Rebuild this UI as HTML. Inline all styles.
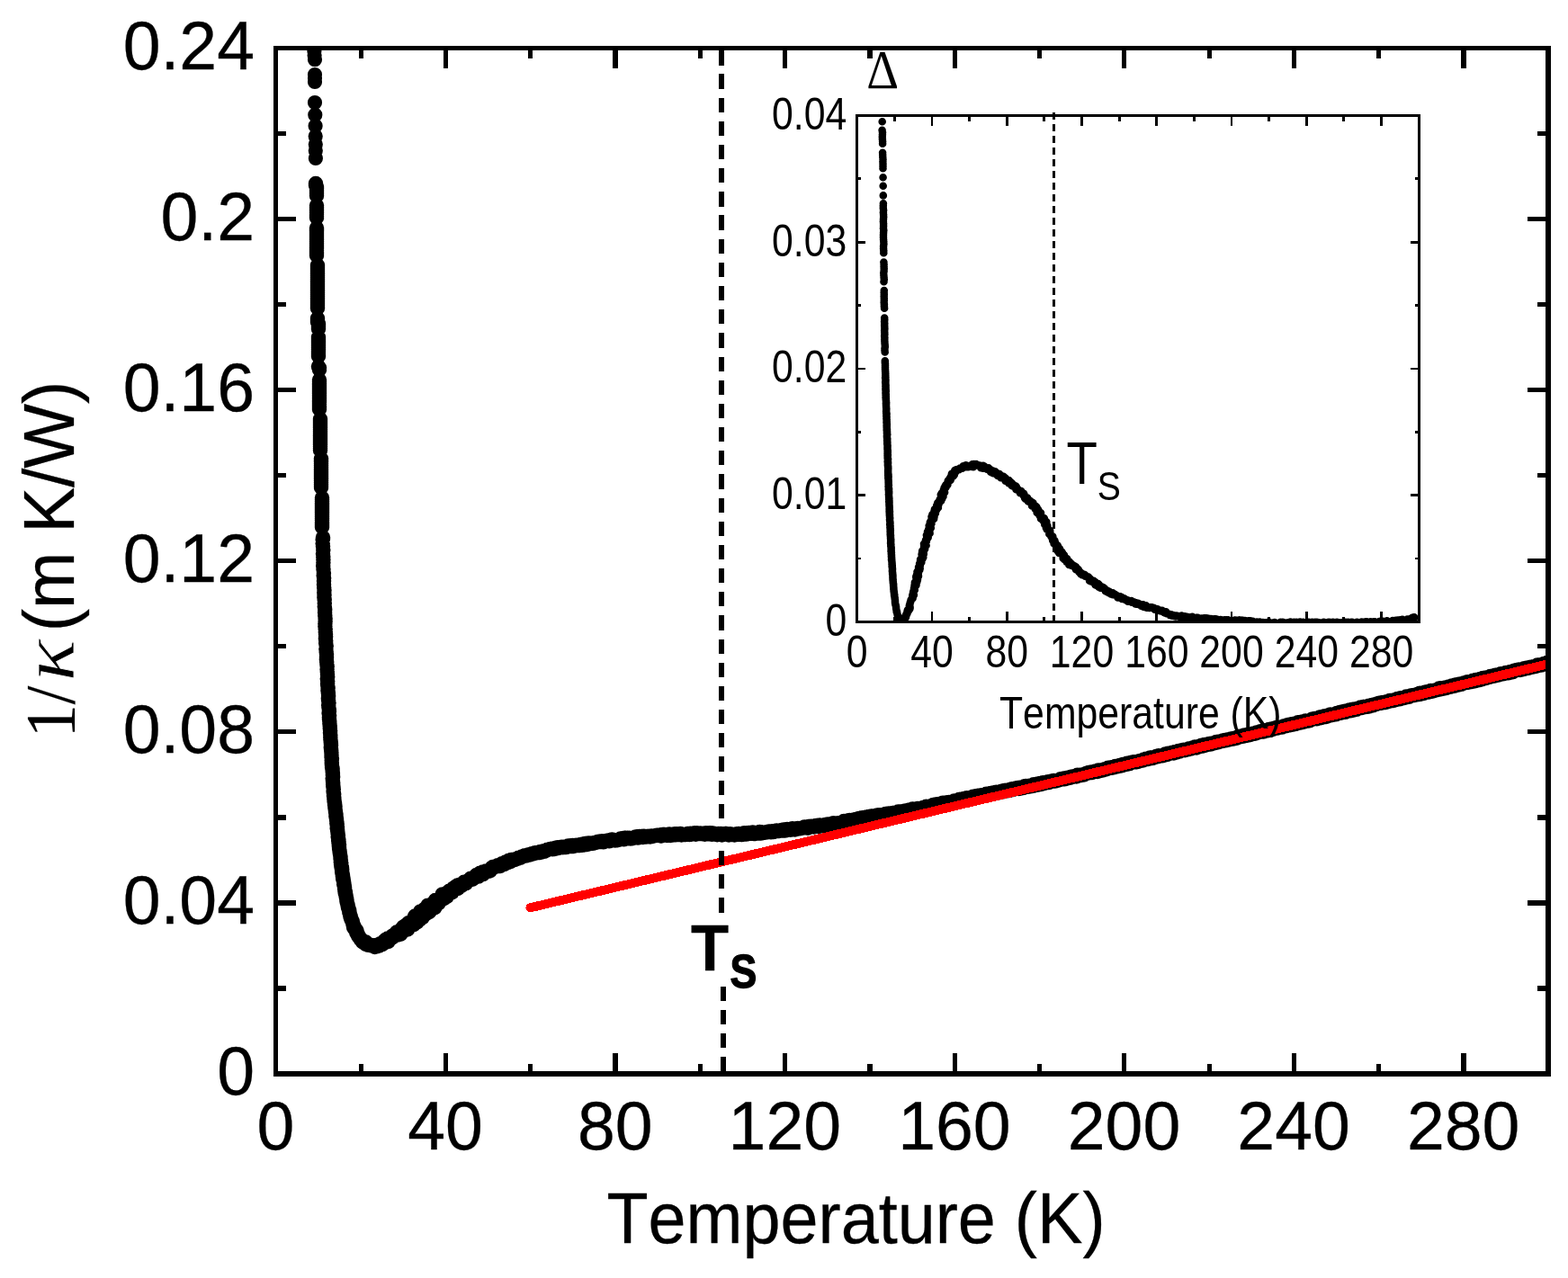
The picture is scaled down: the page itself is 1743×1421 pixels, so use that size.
<!DOCTYPE html>
<html lang="en"><head><meta charset="utf-8"><title>1/kappa vs Temperature</title>
<style>html,body{margin:0;padding:0;background:#fff;overflow:hidden}svg{display:block}text{font-family:"Liberation Sans",Arial,Helvetica,sans-serif;fill:#000;font-kerning:none}.se{font-family:"Liberation Serif","Times New Roman",Times,serif}</style></head><body>
<svg width="1743" height="1421" viewBox="0 0 1743 1421" shape-rendering="crispEdges">
<rect width="1743" height="1421" fill="#fff"/>
<clipPath id="mc"><rect x="306.5" y="53.5" width="1414.5" height="1140.5"/></clipPath>
<g id="main-data" clip-path="url(#mc)" fill="none" stroke="#000" stroke-linecap="round" stroke-linejoin="round" shape-rendering="geometricPrecision">
<path d="M349.4 57h0 M349.6 61.5h0 M350 66.2h0 M350 83h0 M350 87h0 M350 91h0 M350 114h0 M350.3 127.7h0 M350.6 140.1h0 M350.7 151.5h0 M350.8 160.5h0 M350.8 167.5h0 M350.9 176h0" stroke-width="16.2"/>
<path d="M351 204h0 M351 206h0 M352 208h0 M352 209.5h0 M352 211.5h0 M352 213.5h0 M352 215.5h0 M352 217.5h0 M352 228.5h0 M352 230.5h0 M352 232.5h0 M352 234.5h0 M352 236.5h0 M352 238h0 M352 240h0 M352 242h0 M352 253.5h0 M352 255.5h0 M352 257h0 M352 259h0 M352 261h0 M352 263h0 M352 265h0 M352 266.5h0 M352 268.5h0 M352 270.5h0 M352 272.5h0 M352 274.5h0 M352 276h0 M352 278h0 M352 280h0 M352 282h0 M352 284h0 M353 295h0 M353 297h0 M353 299h0 M353 301h0 M353 303h0 M353 304.5h0 M353 306.5h0 M353 308.5h0 M353 310.5h0 M353 312.5h0 M353 314h0 M353 316h0 M353 318h0 M353 320h0 M353 322h0 M353 323.5h0 M353 325.5h0 M353 327.5h0 M353 329.5h0 M353 331.5h0 M353 333h0 M353 335h0 M353 337h0 M353 339h0 M353 341h0 M353 342.5h0 M353 354h0 M353 356h0 M353 358h0 M354 360h0 M354 361.5h0 M354 363.5h0 M354 365.5h0 M354 375h0 M354 377h0 M354 379h0 M354 380.5h0 M354 382.5h0 M354 384.5h0 M354 386.5h0 M354 388.5h0 M354 390h0 M354 392h0 M354 394h0 M354 396h0 M354 407.5h0 M355 409h0 M355 411h0 M355 422.5h0 M355 424.5h0 M355 426.5h0 M355 428h0 M355 430h0 M355 432h0 M355 434h0 M355 436h0 M355 437.5h0 M355 439.5h0 M355 441.5h0 M355 443.5h0 M355 445.5h0 M355 447h0 M355 449h0 M355 451h0 M355 453h0 M355 455h0 M356 466h0 M356 468h0 M356 470h0 M356 472h0 M356 474h0 M356 475.5h0 M356 477.5h0 M356 479.5h0 M356 481.5h0 M356 483.5h0 M356 485h0 M356 487h0 M356 489h0 M356 491h0 M356 493h0 M356 494.5h0 M356 496.5h0 M356 498.5h0 M356 500.5h0 M357 510h0 M357 512h0 M357 513.5h0 M357 515.5h0 M357 517.5h0 M357 519.5h0 M357 521.5h0 M357 523h0 M357 525h0 M357 527h0 M357 529h0 M357 531h0 M357 532.5h0 M357 534.5h0 M357 536.5h0 M357 538.5h0 M357 540.5h0 M357 542h0 M358 553.5h0 M358 555.5h0 M358 557.5h0 M358 559.5h0 M358 561h0 M358 563h0 M358 565h0 M358 567h0 M358 569h0 M358 570.5h0 M358 572.5h0 M358 574.5h0 M358 576.5h0 M358 578.5h0 M358 580h0 M358 582h0 M358 584h0 M358 586h0 M359 597.5h0 M359 599h0 M358.7 600h0 M358.7 604.3h0 M359 607.4h0 M359.3 611.6h0 M359 615.7h0 M359.3 619.2h0 M359.4 622.3h0 M359.4 625.6h0 M359.2 629.2h0 M359.5 633.1h0 M359.9 637.3h0 M359.7 640.1h0 M360.1 642.7h0 M360 646.1h0 M360 650.1h0 M360.2 653.4h0 M360.5 656.3h0 M360.3 659h0 M360.5 661.8h0 M360.4 664.2h0 M360.7 666.9h0 M360.8 670.7h0 M360.8 674.4h0 M361.2 677.9h0 M361.1 681.1h0 M361.3 684.8h0 M361.6 688.1h0 M361.6 691h0 M361.4 693.5h0 M361.4 696.4h0 M361.7 699.5h0 M361.8 702.7h0 M362 705.2h0 M362.1 707.7h0 M361.9 710.1h0 M362.2 712.6h0 M362.2 715.2h0 M362.7 718.3h0 M362.4 721.7h0 M362.7 725.1h0 M363 727.4h0 M363 730.9h0 M362.9 733.2h0 M363.2 736.2h0 M363.4 738.7h0 M363.7 741.1h0 M363.6 744.3h0 M363.8 747.1h0 M364 750.1h0 M364.2 752.5h0 M363.8 754.7h0 M364.2 757.5h0 M364.1 760.1h0 M364.3 762.5h0 M364.6 765.3h0 M364.5 767.9h0 M364.9 770.9h0 M365.1 773.9h0 M364.9 776.8h0 M365.1 778.8h0 M365.5 781.6h0 M365.2 784.2h0 M365.4 786.6h0 M365.8 788.6h0 M365.9 790.9h0 M365.6 793.1h0 M366.1 795.5h0 M365.9 797.6h0 M366 799.8h0 M366.3 802.1h0 M366.4 804.8h0 M366.7 807.2h0 M366.8 809.9h0 M367.1 812.6h0 M367 814.7h0 M367.3 817.4h0 M367.3 819.9h0 M367.4 822.3h0 M367.7 824.9h0 M367.9 826.9h0 M368 828.6h0 M367.8 831.1h0 M368 832.8h0 M368.2 834.8h0 M368.4 837h0 M368.5 839.6h0 M368.5 841.7h0 M368.9 843.4h0 M368.7 845.3h0 M368.8 847.6h0 M368.8 849.2h0 M369 851.4h0 M369.1 853.4h0 M369.6 854.9h0 M369.6 856.3h0 M369.7 858h0 M369.9 859.9h0 M369.9 861.9h0 M370.1 863.9h0 M369.7 865.6h0 M369.9 867.5h0 M370.1 869.5h0 M370.2 871h0 M370.2 872.4h0 M370.3 874.6h0 M370.6 875.9h0 M370.8 877.5h0 M370.6 879.4h0 M370.7 881h0 M371.2 883h0 M371 884.9h0 M371.3 886.4h0 M371.4 888.2h0 M371.5 889.5h0 M371.6 891.3h0 M372.1 893.2h0 M372 895h0 M372.5 896.9h0 M372.4 898.2h0 M372.6 899.6h0 M372.9 901.5h0 M373 902.9h0 M373.4 904.6h0 M373.5 906.1h0 M373.4 907.8h0 M373.8 909.2h0 M374 910.8h0 M374.1 912.2h0 M374.4 913.7h0 M374.3 915.4h0 M374.7 916.8h0 M374.8 918.5h0 M375 919.7h0 M374.7 921h0 M375.1 922.3h0 M375.2 924h0 M375.4 925.3h0 M375.6 927.1h0 M375.9 928.7h0 M375.7 930.4h0 M376 932.1h0 M376.4 933.4h0 M376.2 934.9h0 M376.6 936.1h0 M376.5 937.6h0 M377 939.3h0 M376.8 940.6h0 M377 942.1h0 M377.1 943.9h0 M377.4 945.5h0 M377.6 946.9h0 M377.7 948h0 M377.9 949.6h0 M378.2 951h0 M378.5 952.3h0 M378.5 953.9h0 M378.6 955.2h0 M378.9 956.7h0 M378.8 958.4h0 M379.3 959.6h0 M379.1 961.2h0 M379.4 962.3h0 M379.4 963.8h0 M380 964.9h0 M380.2 966.5h0 M380.1 967.7h0 M380.2 969h0 M380.2 970.1h0 M380.5 971.2h0 M380.7 972.2h0 M381 973.2h0 M380.9 974.4h0 M381.4 975.6h0 M381.2 977.3h0 M381.8 978.8h0 M382 980h0 M382.2 981h0 M382.4 982.2h0 M382.2 983.3h0 M382.7 984.5h0 M382.9 985.9h0 M383.1 987.1h0 M383.1 988.4h0 M383.4 989.7h0 M383.4 991.1h0 M384 992.1h0 M383.7 993.1h0 M384.4 994.5h0 M384.6 996h0 M384.7 997.3h0 M385.2 998.7h0 M385.2 999.8h0 M385.5 1000.7h0 M385.4 1001.9h0 M385.7 1003.2h0 M386.1 1004.5h0 M386.4 1005.9h0 M386.8 1007.2h0 M386.8 1008.2h0 M387 1009.2h0 M387.6 1010.4h0 M388 1011.8h0 M388.3 1012.9h0 M388.4 1014.4h0 M388.9 1015.7h0 M389 1017.1h0 M389.3 1018.4h0 M389.8 1019.4h0 M390 1020.7h0 M390.4 1021.7h0 M390.8 1022.7h0 M391.4 1023.9h0 M391.9 1025.2h0 M392.2 1026.7h0 M392.5 1027.8h0 M392.9 1029h0 M393.4 1029.8h0 M393.1 1031.3h0 M394.3 1031.8h0 M394.7 1033h0 M395 1033.9h0 M396.2 1034.4h0 M396.8 1035.7h0 M396.3 1037.3h0 M397.3 1038.3h0 M398.2 1039.5h0 M398.3 1041h0 M399.3 1042h0 M400.1 1042.9h0 M400.5 1044.1h0 M401.6 1044.6h0 M402.5 1045.6h0 M402.7 1046.9h0 M403.5 1047.6h0 M405.1 1047.6h0 M406.7 1047.6h0 M406.7 1049.8h0 M408.2 1049.9h0 M409.3 1050.8h0 M410.8 1050.7h0 M411.9 1050.7h0 M412.8 1051.4h0 M414.3 1051.4h0 M415.3 1051.4h0 M416.7 1053h0 M417.8 1051.1h0 M419.2 1052.3h0 M420.2 1051.4h0 M421.4 1051.6h0 M422 1050h0 M422.8 1049.3h0 M424.8 1050.1h0 M425.8 1049.4h0 M426.3 1047.5h0 M427.1 1046.3h0 M428.9 1047.7h0 M428.9 1044.7h0 M431.6 1046.9h0 M430.9 1043.5h0 M432.4 1043.5h0 M433.8 1043.3h0 M434.6 1042.1h0 M436.3 1042.4h0 M436.4 1040.4h0 M437.8 1039.9h0 M438.6 1039.1h0 M439.9 1039.2h0 M441.9 1039.6h0 M440.9 1036.5h0 M443.8 1038.7h0 M445.3 1038.7h0 M445.3 1036.6h0 M446.9 1036.4h0 M446.1 1033.4h0 M447.8 1033.8h0 M448.4 1033h0 M448.3 1030.7h0 M449.2 1030.3h0 M453.1 1033.5h0 M450.7 1029.1h0 M452.6 1029.9h0 M453.3 1029.2h0 M453.3 1027.6h0 M454 1026.3h0 M455.9 1026.7h0 M458.6 1028.1h0 M459.8 1028.1h0 M459.8 1025.8h0 M460.5 1025.2h0 M462 1025h0 M463.6 1025.3h0 M460.8 1019.7h0 M461.3 1018.6h0 M466.5 1022.6h0 M466.2 1019.9h0 M467.5 1019.5h0 M469.7 1020.2h0 M467.9 1016h0 M467.3 1013.4h0 M471.5 1016.3h0 M473.1 1016.5h0 M471.8 1012.8h0 M471.6 1011h0 M473.2 1011.4h0 M476.9 1014.1h0 M477.6 1013.3h0 M478.4 1012.3h0 M475.6 1006.7h0 M477.7 1007.3h0 M480.9 1009.8h0 M479.4 1005.7h0 M483.4 1009.2h0 M483.2 1007.2h0 M484.5 1007.2h0 M483.9 1004.9h0 M484.8 1004.5h0 M483.9 1001h0 M487.7 1004.2h0 M486.7 1000.9h0 M488.4 1000.9h0 M488.8 999.1h0 M491.4 1000.2h0 M491.3 997.9h0 M493.8 998.9h0 M491.7 994.4h0 M495.9 997.4h0 M496.8 996.9h0 M496.5 994.8h0 M497.6 993.8h0 M497.9 992.5h0 M498.4 991.6h0 M499.2 990.8h0 M500.9 991.6h0 M502.6 992.2h0 M502.4 989.4h0 M504.1 989.6h0 M503.9 987.7h0 M506 988.2h0 M506.2 986.1h0 M508.9 987.9h0 M508.5 984.6h0 M510.2 985h0 M510.9 983.7h0 M512.9 984.8h0 M513.4 983.4h0 M514.5 982.3h0 M515.3 982h0 M515.8 980.8h0 M518 982.2h0 M518.7 980.8h0 M519.5 980.1h0 M520.7 979.5h0 M521.9 978.7h0 M522.8 978.3h0 M523.3 976.7h0 M525.3 977.7h0 M525.8 976.5h0 M526.8 975.5h0 M527.7 975h0 M529.2 975.2h0 M529.5 973.1h0 M531.8 974.6h0 M531.8 972.4h0 M533.5 973.5h0 M533.7 970.7h0 M534.9 970.6h0 M536.9 972.1h0 M536.8 969.6h0 M538.3 970h0 M539.4 969.2h0 M540.2 968.5h0 M542.1 969h0 M543 968.8h0 M544 968.2h0 M544.9 968.1h0 M545.3 966.5h0 M546.5 966.1h0 M546.9 964.7h0 M547.8 964h0 M548.9 963.8h0 M550.2 963.9h0 M551.3 963.2h0 M552.2 963h0 M553.3 962.3h0 M554.9 963h0 M556.1 962.9h0 M556.9 960.9h0 M558 960.3h0 M559.1 960.3h0 M560.7 960.9h0 M561.4 960h0 M562.1 958.4h0 M563.9 958.9h0 M565 958.9h0 M565.2 957.1h0 M566.9 958.2h0 M567.7 957.8h0 M568.3 955.9h0 M569.7 956.1h0 M571.1 956.1h0 M572.4 956h0 M573.3 955.4h0 M574.3 954.9h0 M575.7 954.7h0 M576.5 953.7h0 M578.1 953.8h0 M579.1 953.4h0 M580 952.5h0 M581.3 952.2h0 M582.4 951.8h0 M583.5 951.2h0 M584.5 951.6h0 M585.7 951.2h0 M586.9 950.4h0 M588 950.2h0 M589.1 950.4h0 M590.1 949.7h0 M591.3 949.2h0 M592.4 949.5h0 M593.6 948.8h0 M594.8 948.2h0 M596.1 948.5h0 M597 948.1h0 M598.3 948h0 M599.3 947.9h0 M600.3 948h0 M601.1 946.9h0 M602.3 947.5h0 M603.2 946.8h0 M604.8 946.8h0 M605.5 946.1h0 M606.8 946h0 M607.8 945.2h0 M608.6 944.7h0 M609.8 944.4h0 M610.8 944.5h0 M611.7 943.9h0 M613.2 944.1h0 M614.3 944.2h0 M615 943.4h0 M616.6 944h0 M617.7 942.8h0 M618.8 942.5h0 M619.8 942.3h0 M620.9 942.9h0 M621.7 942.2h0 M623.2 942.2h0 M624.2 941.7h0 M625.7 942.2h0 M626.9 942h0 M627.8 941.4h0 M629.2 942.1h0 M630.5 941.5h0 M631.6 940.6h0 M633 940.4h0 M634.1 941.1h0 M635.5 941.1h0 M636.5 940.1h0 M637.6 940.9h0 M639 939.9h0 M640.4 939.9h0 M641.5 939.9h0 M642.4 939.7h0 M643.4 939.9h0 M644.7 940h0 M646 939h0 M647.2 939.7h0 M648.2 938.4h0 M649.3 939.5h0 M650.3 938h0 M651.6 938.5h0 M652.8 938.9h0 M654.1 937.5h0 M655.2 937.8h0 M656.6 937.9h0 M657.9 937.6h0 M659 937.8h0 M659.9 937.5h0 M660.8 937h0 M662.3 936.9h0 M663.2 936.6h0 M664.4 935.9h0 M665.4 935.7h0 M666.7 936h0 M667.9 935.7h0 M669.1 935.3h0 M670.7 936.3h0 M671.8 935.4h0 M673.2 934.9h0 M674.5 934.7h0 M675.9 934.6h0 M677.2 935.3h0 M678.1 935h0 M679.3 934.2h0 M680.3 933.6h0 M681.5 934.3h0 M682.4 934.2h0 M683.9 934.5h0 M685.3 934h0 M686.4 934.2h0 M687.4 933.9h0 M688.7 933.3h0 M689.9 932.6h0 M691.1 932.6h0 M692 932.2h0 M693.5 933.3h0 M694.3 931.8h0 M695.4 931.8h0 M696.5 932.4h0 M697.6 932h0 M698.7 932.3h0 M699.7 931.8h0 M701 932.4h0 M702 932h0 M703.1 932.2h0 M704.1 931.5h0 M705.6 931.6h0 M706.5 930.6h0 M707.9 930.3h0 M709.1 931.6h0 M709.9 930.3h0 M710.9 930.1h0 M712.2 930.8h0 M713.2 929.9h0 M714.7 930.9h0 M715.8 929.7h0 M717.1 930.3h0 M718.3 930.6h0 M719.4 930h0 M720.4 929.9h0 M721.7 930.1h0 M722.8 930.4h0 M724.1 929.4h0 M725.3 929.9h0 M726.3 929.6h0 M727.6 929.3h0 M729 929.1h0 M730.1 928.7h0 M731.6 928.7h0 M732.9 928.7h0 M734.4 929.5h0 M735.3 929.5h0 M736.5 928h0 M737.7 927.9h0 M738.9 928h0 M740.1 928.2h0 M741.4 928.9h0 M742.8 928h0 M744 927.4h0 M745.2 929h0 M746.2 928.8h0 M747.4 927.7h0 M748.8 927.7h0 M750.2 927.2h0 M751.2 928.3h0 M752.3 927.2h0 M753.6 927.4h0 M754.8 928.1h0 M756.2 926.9h0 M757.5 928.4h0 M758.7 928h0 M759.6 928.1h0 M760.9 928.1h0 M762.3 928h0 M763.2 927.7h0 M764.2 926.9h0 M765.3 927.4h0 M766.6 928h0 M767.4 926.7h0 M768.6 927.7h0 M769.8 927.1h0 M771.2 927.3h0 M772.2 926.3h0 M773.4 927.7h0 M774.7 926.2h0 M775.8 926.8h0 M777.1 927.1h0 M778.6 926.6h0 M779.7 927.1h0 M781.1 927.3h0 M782.3 927.5h0 M783.5 927.7h0 M784.6 926.2h0 M786 926.6h0 M787.4 927.2h0 M788.6 926.3h0 M790 926.3h0 M791.4 927.8h0 M792.5 926.5h0 M793.9 927.2h0 M794.9 927.3h0 M796 927.2h0 M797.2 928.2h0 M798.7 926.9h0 M799.8 927.6h0 M801.3 926.9h0 M802.5 928.5h0 M803.7 927.3h0 M804.9 927.5h0 M806.3 927.1h0 M807.4 927h0 M808.7 927.4h0 M810.1 928.5h0 M811.6 927.3h0 M812.5 927.5h0 M814 928.1h0 M814.9 928h0 M816.4 928.4h0 M817.7 928.2h0 M819.1 927.2h0 M820.1 927.8h0 M821 927.1h0 M822.5 927.4h0 M823.8 928h0 M824.8 928.1h0 M826.2 926.8h0 M827.3 926.3h0 M828.8 926.4h0 M829.7 927.6h0 M831 927.1h0 M832.2 925.9h0 M833.2 926.7h0 M834.2 926.6h0 M835.5 926.8h0 M836.7 925.6h0 M837.9 927.1h0 M838.8 926.4h0 M839.8 927h0 M840.7 926h0 M842 926.5h0 M843.4 926.4h0 M844.4 925.1h0 M845.9 926.6h0 M846.8 926.1h0 M847.7 925.5h0 M848.9 925.7h0 M850.4 925.7h0 M851.6 925.6h0 M852.7 924.9h0 M853.8 925h0 M854.9 924.4h0 M855.9 924.7h0 M857 925.3h0 M858.3 924.2h0 M859.7 925.1h0 M860.7 924.4h0 M861.9 924.4h0 M863.3 923.4h0 M864.9 924.1h0 M866.2 923.9h0 M867.6 923.2h0 M868.9 923h0 M870.2 923.6h0 M871.1 922.4h0 M872.6 923.6h0 M873.8 922.6h0 M875 922h0 M876.4 922.7h0 M877.6 922.4h0 M878.7 922.7h0 M879.9 922.6h0 M880.9 921.3h0 M882.2 922.2h0 M883.7 922.5h0 M884.6 922.1h0 M885.6 921.9h0 M886.7 921.1h0 M887.9 921.3h0 M889.2 921.3h0 M890.5 920.7h0 M891.8 920.5h0 M893 920.5h0 M894.2 919.6h0 M895.4 919.8h0 M896.5 919.4h0 M898 920.7h0 M898.9 919.1h0 M900.1 919h0 M901.6 918.8h0 M902.8 919.3h0 M903.7 918.8h0 M904.8 919.4h0 M906.2 918.6h0 M907.5 918h0 M908.8 918.3h0 M910 918.9h0 M911.2 917.4h0 M912.4 918.5h0 M913.8 917.9h0 M915.3 918.4h0 M916.6 917.6h0 M917.5 916.9h0 M918.9 917.7h0 M919.9 916.6h0 M920.8 917h0 M922 917h0 M923 916.6h0 M924.2 916.1h0 M925.2 915.8h0 M926.5 915.2h0 M927.5 915.5h0 M928.6 916h0 M930.1 916h0 M931.4 915.2h0 M932.4 915.4h0 M933.7 915h0 M935 914.9h0 M936 914.5h0 M937.1 913.7h0 M938.1 913.1h0 M939.4 913.3h0 M940.7 913.9h0 M941.9 913.4h0 M943.2 912.3h0 M944.4 911.9h0 M945.8 913.2h0 M946.6 912.7h0 M948 912h0 M949.3 911.6h0 M950.4 911.5h0 M951.3 911h0 M952.6 912h0 M953.5 910.4h0 M954.9 910h0 M956.6 911h0 M957.7 910h0 M958.6 909.3h0 M959.6 909.5h0 M960.9 910.4h0 M962.1 910.3h0 M963.2 908.5h0 M964.4 908.4h0 M965.6 909.6h0 M966.4 908.1h0 M967.5 908.7h0 M968.5 907.4h0 M969.9 907.6h0 M971.3 907.8h0 M972.5 907.6h0 M973.9 908.3h0 M975 906.4h0 M976.3 906.6h0 M977.2 906.3h0 M978.4 907.5h0 M979.7 907.1h0 M980.9 906h0 M982.1 906h0 M983.1 905.8h0 M984.4 905h0 M985.5 905.5h0 M986.9 905.6h0 M988 904.5h0 M989.1 904.7h0 M990.3 905.3h0 M991.7 904.9h0 M992.5 904.1h0 M994.1 905h0 M995.1 903.8h0 M996.3 904.1h0 M997.6 903.3h0 M998.5 902.6h0 M999.8 903.9h0 M1001.1 903.9h0 M1001.8 902.6h0 M1003.2 902.9h0 M1004.1 902.3h0 M1005.4 902.6h0 M1006.4 901.5h0 M1008 901.7h0 M1009.3 901.6h0 M1010.1 900.9h0 M1011 900.6h0 M1012.1 900.8h0 M1013.2 900.5h0 M1014.4 899.6h0 M1015.6 900.8h0 M1016.7 900h0 M1017.8 899.9h0 M1018.9 900.3h0 M1020.1 899.1h0 M1021.2 899.9h0 M1022.1 899.3h0 M1023.6 899.2h0 M1024.9 898.4h0 M1026.2 898.1h0 M1027.3 897.9h0 M1028.4 898.2h0 M1029.6 896.8h0 M1030.7 897h0 M1032 897.8h0 M1033.5 897.5h0 M1034.7 896.7h0 M1035.6 896h0 M1036.6 896.6h0 M1037.4 895.1h0 M1038.6 895.3h0 M1039.8 894.5h0 M1041.1 895.7h0 M1042.4 895h0 M1043.4 894.1h0 M1045 894.7h0 M1046 893.4h0 M1047.1 893.6h0 M1048 892.8h0 M1049.3 893.2h0 M1050.3 892.9h0 M1051.4 892.6h0 M1052.7 892.6h0 M1053.8 892.9h0 M1054.9 892.1h0 M1056.3 892.3h0 M1057.7 892.1h0 M1058.9 891.7h0 M1059.9 891.4h0 M1060.7 890.5h0 M1061.7 890.5h0 M1062.7 890.7h0 M1064.1 890.7h0 M1065 890.2h0 M1066.2 889h0 M1067.2 889.1h0 M1068.4 888.7h0 M1069.6 888.8h0 M1070.9 888.8h0 M1072.1 888.1h0 M1073.6 888.6h0 M1074.7 887.3h0 M1076.3 887.8h0 M1077.3 887.4h0 M1078.5 887.3h0 M1079.4 886.7h0 M1080.7 887.3h0 M1081.6 885.8h0 M1082.8 885.9h0 M1083.9 886.9h0 M1084.9 886h0 M1085.8 885h0 M1087.5 886.1h0 M1088.3 885.1h0 M1089.3 884.5h0 M1090.8 885.2h0 M1092.1 884.8h0 M1092.9 883.9h0 M1094.2 884.4h0 M1095.2 883.8h0 M1096.5 882.8h0 M1097.6 883h0 M1099 882.7h0 M1100 882.8h0 M1101.2 882.1h0 M1102.6 881.9h0 M1103.9 881.6h0 M1105.3 881.4h0 M1106.8 882.1h0 M1107.6 880.7h0 M1108.9 881.1h0 M1110.2 881.3h0 M1111.3 880.6h0 M1112.4 880.3h0 M1113.4 879.7h0 M1114.5 879.6h0 M1115.7 880.2h0 M1116.5 879.1h0 M1117.7 879h0 M1118.8 878.9h0 M1120 879.2h0 M1121.5 879.1h0 M1122.5 878.3h0 M1123.6 877.7h0 M1125 877.2h0 M1126.2 877.9h0 M1127.3 877.1h0 M1128.8 877h0 M1129.9 876.2h0 M1131.3 876h0 M1132.7 876.9h0 M1134.1 876.7h0 M1135.3 875.4h0 M1136.2 875.5h0 M1137.3 876.1h0 M1138 875h0 M1138.9 874.3h0 M1140.1 874.1h0 M1141.7 874.8h0 M1142.8 874.8h0 M1144 873.7h0 M1145.6 874.3h0 M1146.7 873.2h0 M1148.3 873.8h0 M1149.1 872.3h0 M1150.7 872.9h0 M1151.6 872.5h0 M1152.8 872.8h0 M1153.7 871.5h0 M1154.6 871.5h0 M1156.1 871.1h0 M1157.4 871.9h0 M1158.1 870.7h0 M1159.4 870.2h0 M1161.1 870.9h0 M1162 870.4h0 M1163.2 870.3h0 M1164.2 869.6h0 M1165.1 869.3h0 M1166.3 869.9h0 M1167.6 868.9h0 M1168.9 868.8h0 M1169.9 868.3h0 M1171.3 868h0 M1172.7 868.6h0 M1173.7 868.2h0 M1174.7 867.9h0 M1176.1 867.7h0 M1177.5 867.2h0 M1178.8 866.3h0 M1180 866h0 M1180.9 866.1h0 M1182.4 866.3h0 M1183.3 866.3h0 M1184.1 865.2h0 M1185.7 865.7h0 M1186.8 864.7h0 M1188.1 865.1h0 M1189.2 864.8h0 M1190.4 864.1h0 M1191.8 863.6h0 M1193.2 863.7h0 M1194.2 863.3h0 M1195.5 863h0 M1196.6 863.4h0 M1197.7 861.8h0 M1199.3 862.2h0 M1200.3 862.3h0 M1201.4 861.9h0 M1202.7 861.4h0 M1203.7 861.5h0 M1205 861.4h0 M1206 861h0 M1207.3 860.1h0 M1208.4 859.8h0 M1209.2 859.4h0 M1210.3 859h0 M1211.7 859.1h0 M1212.9 858.6h0 M1214.1 859h0 M1215.2 858.5h0 M1216.3 858.2h0 M1217.6 857.5h0 M1218.9 857.7h0 M1219.9 857.9h0 M1220.9 856.6h0 M1222.4 857.1h0 M1223.6 856.9h0 M1224.4 856.2h0 M1225.9 856.4h0 M1227 855.7h0 M1228.1 855.3h0 M1229.4 855.5h0 M1230.7 854.9h0 M1231.9 853.7h0 M1233.4 853.9h0 M1234.6 853.4h0 M1235.9 853.8h0 M1236.7 852.9h0 M1238 853.3h0 M1239 853h0 M1239.9 852.1h0 M1241.2 852.3h0 M1242.7 852.2h0 M1243.6 851.8h0 M1244.8 851.1h0 M1246.3 851.4h0 M1247.4 851.2h0 M1248.1 850h0 M1249.5 849.8h0 M1250.8 849.8h0 M1251.8 849.9h0 M1252.9 848.8h0 M1254.2 849.4h0 M1255.6 849.1h0 M1256.6 848.2h0 M1257.7 847.7h0 M1258.9 847.5h0 M1259.9 847.5h0 M1260.8 847.3h0 M1262.2 847.3h0 M1263.7 847.2h0 M1264.9 846.9h0 M1266 846.5h0 M1267 845.9h0 M1268.4 845.7h0 M1269.7 845.6h0 M1270.7 845.4h0 M1271.5 844.5h0 M1272.4 844.3h0 M1273.8 843.7h0 M1275 844.1h0 M1276.4 844h0 M1277.3 843.1h0 M1278.6 842.6h0 M1279.6 842.6h0 M1280.9 843.1h0 M1282.1 842.4h0 M1283.4 842.2h0 M1284.5 841.5h0 M1285.4 841.1h0 M1286.8 841.3h0 M1288 840.3h0 M1289.5 840.4h0 M1291 840.3h0 M1292.2 840.3h0 M1293.4 839.8h0 M1294.4 839.5h0 M1295.3 838.6h0 M1296.4 838.8h0 M1297.5 838.9h0 M1298.2 837.8h0 M1299.8 837.8h0 M1300.9 837.4h0 M1302 837.4h0 M1303.2 836.7h0 M1304.8 837.5h0 M1305.9 836.4h0 M1306.8 836h0 M1308.1 836.5h0 M1308.9 836.2h0 M1310 835h0 M1311.1 835.6h0 M1312.3 834.8h0 M1313.6 834.4h0 M1314.7 834h0 M1315.9 833.7h0 M1317.1 834.2h0 M1318.3 833.8h0 M1319.5 833.5h0 M1320.6 833.3h0 M1321.4 832.6h0 M1322.5 832.2h0 M1323.6 832.6h0 M1324.8 831.9h0 M1325.8 831.5h0 M1327.1 831.6h0 M1328.4 830.6h0 M1330.1 831.4h0 M1331.1 830.8h0 M1332.4 830.4h0 M1333.4 830.2h0 M1334.7 829.2h0 M1335.8 828.8h0 M1337.4 829.4h0 M1338.3 829.1h0 M1339.4 828.1h0 M1340.7 828.5h0 M1341.8 828h0 M1343.2 827.8h0 M1344.2 826.9h0 M1345.4 827.6h0 M1346.7 827.2h0 M1347.9 826.6h0 M1349.1 826.5h0 M1350.1 826h0 M1351.3 825.9h0 M1352.1 824.9h0 M1353.1 824.9h0 M1354.6 825.2h0 M1355.8 824.6h0 M1356.8 824.4h0 M1358.2 824.1h0 M1359.4 823.6h0 M1360.4 823.7h0 M1361.5 823.1h0 M1362.6 823.3h0 M1363.6 822.9h0 M1364.7 822.8h0 M1365.7 822.2h0 M1367.2 822.2h0 M1368.4 821.4h0 M1369.8 821.2h0 M1371.4 821.4h0 M1372.6 821h0 M1373.8 820.6h0 M1374.8 820.7h0 M1375.9 819.4h0 M1377.1 819.7h0 M1378.3 818.8h0 M1379.8 818.7h0 M1381.3 818.8h0 M1382.4 818.1h0 M1383.2 817.6h0 M1384.7 818.1h0 M1386 817.3h0 M1387.4 816.8h0 M1389 817.2h0 M1389.9 816.9h0 M1391.1 816.4h0 M1392.5 815.9h0 M1393.6 815.4h0 M1395.1 815.7h0 M1396 815.3h0 M1396.9 814.4h0 M1398 814.6h0 M1399 814h0 M1399.9 813.9h0 M1401.2 813.2h0 M1402.5 813.6h0 M1403.3 813h0 M1404.9 813.5h0 M1406 812.2h0 M1407.4 812.2h0 M1408.4 812h0 M1409.9 812.2h0 M1410.8 810.9h0 M1412.5 811.7h0 M1413.4 810.5h0 M1414.8 810.8h0 M1415.8 810.1h0 M1416.8 809.8h0 M1417.7 809.5h0 M1419.1 808.9h0 M1420.6 809.5h0 M1421.7 809h0 M1422.7 808.8h0 M1424 808.6h0 M1425.2 808.6h0 M1426.5 807.8h0 M1427.7 807.2h0 M1429.2 807.3h0 M1430.5 806.5h0 M1431.9 805.9h0 M1433.1 805.7h0 M1434.3 806.2h0 M1435.1 805.5h0 M1436.2 805.8h0 M1437 805h0 M1438.4 805.1h0 M1439.8 805.1h0 M1440.6 804.5h0 M1441.9 804.3h0 M1443 803.2h0 M1444.2 803.8h0 M1445.3 802.9h0 M1446.2 803h0 M1447.2 803.1h0 M1448.3 802.9h0 M1449.1 802.3h0 M1450.1 802.4h0 M1451.2 801.5h0 M1452.8 801.7h0 M1453.9 801.6h0 M1455 801.4h0 M1456.1 801.2h0 M1456.9 800.7h0 M1457.9 800.1h0 M1459 799.4h0 M1460 799.2h0 M1461.4 799h0 M1462.6 798.9h0 M1463.7 799.3h0 M1464.8 798.7h0 M1466.2 798.6h0 M1467 797.5h0 M1468.2 797.3h0 M1469.3 798h0 M1470.4 797.1h0 M1471.4 797.3h0 M1472.4 796.3h0 M1474.1 796.9h0 M1475.5 796.4h0 M1476.5 795.5h0 M1477.7 795h0 M1478.9 794.6h0 M1480 795.2h0 M1481.1 794.9h0 M1482.4 794.7h0 M1483.7 794.5h0 M1485 794.3h0 M1486.1 792.9h0 M1487.2 793h0 M1488.2 792.6h0 M1489.6 792h0 M1490.7 792.7h0 M1491.6 791.8h0 M1493.2 792.1h0 M1494.1 791.1h0 M1495.4 791.8h0 M1496.5 790.4h0 M1497.9 790.5h0 M1499.1 790.1h0 M1500 789.5h0 M1501.3 790.3h0 M1502.6 789.7h0 M1503.8 788.8h0 M1505.1 789.4h0 M1506.4 788.5h0 M1507.9 788.8h0 M1509.2 787.7h0 M1510.5 787.5h0 M1511.6 787.3h0 M1512.5 786.5h0 M1514 787h0 M1515.3 786h0 M1516.4 786.3h0 M1517.8 785.8h0 M1518.8 785.7h0 M1520.3 785.7h0 M1521.6 784.8h0 M1522.7 785.1h0 M1524.1 784.8h0 M1525 783.9h0 M1526.2 784.3h0 M1527.5 783.4h0 M1528.9 783.1h0 M1530.1 783h0 M1531 782.4h0 M1532 782.2h0 M1533.1 781.7h0 M1534.5 781.5h0 M1535.7 781.7h0 M1536.6 781.2h0 M1537.9 781.1h0 M1539.3 781.1h0 M1540.3 780.9h0 M1541.5 780.4h0 M1542.4 779.9h0 M1543.7 780h0 M1544.9 779h0 M1546.4 779.1h0 M1547.7 779.1h0 M1548.9 778.9h0 M1550.2 778.5h0 M1551.2 777.9h0 M1552.3 777.9h0 M1553.5 776.9h0 M1555 777.2h0 M1555.9 777.3h0 M1556.9 776.2h0 M1557.9 776.6h0 M1558.9 776h0 M1559.9 775.9h0 M1561.1 775.9h0 M1562.3 775.5h0 M1563.2 774.5h0 M1564.8 775.1h0 M1566.1 774.8h0 M1567.3 774.2h0 M1568.3 773.6h0 M1569.4 773.2h0 M1570.6 773.2h0 M1571.5 772.9h0 M1572.6 772.9h0 M1574 772.6h0 M1575.2 772.3h0 M1576.2 771.7h0 M1577.7 772.1h0 M1578.4 770.7h0 M1580.1 771.4h0 M1581.3 771.1h0 M1582.6 770.9h0 M1583.5 770.1h0 M1584.7 769.5h0 M1586 769.3h0 M1587.4 769.6h0 M1588.6 769.5h0 M1589.8 769h0 M1590.5 768h0 M1592 768.7h0 M1593.2 768.3h0 M1594.1 768.1h0 M1595.4 767.4h0 M1596.6 767.3h0 M1597.6 767h0 M1598.8 766.5h0 M1599.7 765.6h0 M1600.9 766.4h0 M1601.7 765.2h0 M1602.9 765.5h0 M1604.2 765.7h0 M1605.6 765.4h0 M1606.8 764.5h0 M1607.9 764.9h0 M1608.8 764.2h0 M1609.9 764.2h0 M1610.8 763.5h0 M1611.9 763.8h0 M1613.1 763.2h0 M1614 762.4h0 M1615.6 762.8h0 M1616.9 762.7h0 M1617.9 761.5h0 M1619.2 761.3h0 M1620.4 761.3h0 M1621.7 761.5h0 M1622.9 760.6h0 M1624.4 760.8h0 M1625.7 760.1h0 M1627 759.7h0 M1627.9 759.2h0 M1629.2 759h0 M1630.3 758.8h0 M1631.2 758.2h0 M1632.3 758.7h0 M1633.3 758.2h0 M1634.8 758h0 M1636.2 757.9h0 M1637.4 756.7h0 M1638.7 757.5h0 M1639.9 757.2h0 M1640.6 755.9h0 M1642.1 756h0 M1643.4 756.3h0 M1644.5 756.1h0 M1645.4 755h0 M1646.4 755.1h0 M1647.7 755.2h0 M1648.4 754h0 M1649.5 754.5h0 M1650.8 754h0 M1652.1 753.9h0 M1652.8 753.2h0 M1654.3 753h0 M1655.8 752.8h0 M1656.7 752h0 M1657.8 752.1h0 M1658.9 752h0 M1660.1 751.8h0 M1661 751.3h0 M1662.3 750.7h0 M1663.8 750.9h0 M1665 750.4h0 M1666.1 750.4h0 M1667.5 749.8h0 M1668.3 749.3h0 M1669.8 749.2h0 M1670.8 749.3h0 M1672.2 749h0 M1673.1 748.6h0 M1674 747.9h0 M1675.6 748h0 M1676.7 748.3h0 M1678.1 747.9h0 M1679 746.9h0 M1680.2 747.1h0 M1681.7 747.2h0 M1683 746.1h0 M1684.1 745.6h0 M1685.3 745.2h0 M1686.2 745.1h0 M1687.3 745h0 M1688.6 744.5h0 M1689.7 744.9h0 M1691 744.7h0 M1692.2 744.3h0 M1693.5 744.1h0 M1694.2 743.3h0 M1695.5 742.9h0 M1696.7 742.7h0 M1698 743.1h0 M1699.2 742.4h0 M1700.3 742.5h0 M1701.5 741.8h0 M1702.9 741.8h0 M1704.4 741.4h0 M1705.7 740.9h0 M1707.1 741h0 M1707.9 740.3h0 M1709 739.5h0 M1710.6 740h0 M1711.9 739.2h0 M1713.2 739.6h0 M1714.3 739.2h0 M1715.3 738.4h0 M1716.3 738h0 M1717.4 737.7h0 M1719 738.3h0 M1719.6 737h0 M1720.8 737.8h0 M1721.6 737.3h0 M1722.5 736.5h0" stroke-width="16.5"/>
</g>
<line clip-path="url(#mc)" x1="589.5" y1="1009.3" x2="1725" y2="737.3" stroke="#ff0000" stroke-width="10" stroke-linecap="round"/>
<g stroke="#000" stroke-width="6" fill="none">
<line x1="802" y1="56.3" x2="802" y2="1014.6" stroke-dasharray="16.2 9.97"/>
<line x1="804" y1="1096.8" x2="804" y2="1194" stroke-dasharray="16.2 9.8"/>
</g>
<g id="main-axes" stroke="#000" fill="none" stroke-width="5.5" shape-rendering="crispEdges">
<rect x="306.5" y="53.5" width="1414.5" height="1140.5"/>
<path d="M401.1 56.2 v9 M401.1 1191.2 v-8 M495.4 56.2 v20 M495.4 1191.2 v-20 M589.7 56.2 v9 M589.7 1191.2 v-8 M684 56.2 v20 M684 1191.2 v-20 M778.3 56.2 v9 M778.3 1191.2 v-8 M872.6 56.2 v20 M872.6 1191.2 v-20 M966.9 56.2 v9 M966.9 1191.2 v-8 M1061.2 56.2 v20 M1061.2 1191.2 v-20 M1155.5 56.2 v9 M1155.5 1191.2 v-8 M1249.8 56.2 v20 M1249.8 1191.2 v-20 M1344.1 56.2 v9 M1344.1 1191.2 v-8 M1438.4 56.2 v20 M1438.4 1191.2 v-20 M1532.7 56.2 v9 M1532.7 1191.2 v-8 M1627 56.2 v20 M1627 1191.2 v-20 M309.2 1099 h9 M1718.2 1099 h-9 M309.2 1003.9 h20 M1718.2 1003.9 h-20 M309.2 908.9 h9 M1718.2 908.9 h-9 M309.2 813.8 h20 M1718.2 813.8 h-20 M309.2 718.8 h9 M1718.2 718.8 h-9 M309.2 623.8 h20 M1718.2 623.8 h-20 M309.2 528.7 h9 M1718.2 528.7 h-9 M309.2 433.7 h20 M1718.2 433.7 h-20 M309.2 338.6 h9 M1718.2 338.6 h-9 M309.2 243.6 h20 M1718.2 243.6 h-20 M309.2 148.5 h9 M1718.2 148.5 h-9" stroke-width="5.2"/>
</g>
<g id="main-labels" stroke="#000" stroke-width="0.3">
<text transform="translate(283 1217) scale(1.0 1.022)" font-size="75.2" text-anchor="end">0</text>
<text transform="translate(283 1026.9) scale(1.0 1.022)" font-size="75.2" text-anchor="end">0.04</text>
<text transform="translate(283 836.8) scale(1.0 1.022)" font-size="75.2" text-anchor="end">0.08</text>
<text transform="translate(283 646.8) scale(1.0 1.022)" font-size="75.2" text-anchor="end">0.12</text>
<text transform="translate(283 456.7) scale(1.0 1.022)" font-size="75.2" text-anchor="end">0.16</text>
<text transform="translate(283 266.6) scale(1.0 1.022)" font-size="75.2" text-anchor="end">0.2</text>
<text transform="translate(283 76.5) scale(1.0 1.022)" font-size="75.2" text-anchor="end">0.24</text>
<text transform="translate(306.5 1277.6) scale(1.0 1.022)" font-size="75.2" text-anchor="middle">0</text>
<text transform="translate(495.1 1277.6) scale(1.0 1.022)" font-size="75.2" text-anchor="middle">40</text>
<text transform="translate(683.7 1277.6) scale(1.0 1.022)" font-size="75.2" text-anchor="middle">80</text>
<text transform="translate(872.3 1277.6) scale(1.0 1.022)" font-size="75.2" text-anchor="middle">120</text>
<text transform="translate(1060.9 1277.6) scale(1.0 1.022)" font-size="75.2" text-anchor="middle">160</text>
<text transform="translate(1249.5 1277.6) scale(1.0 1.022)" font-size="75.2" text-anchor="middle">200</text>
<text transform="translate(1438.1 1277.6) scale(1.0 1.022)" font-size="75.2" text-anchor="middle">240</text>
<text transform="translate(1626.7 1277.6) scale(1.0 1.022)" font-size="75.2" text-anchor="middle">280</text>
<text transform="translate(674.4 1382.2) scale(1.0 1.05)" font-size="75.55" text-anchor="start">Temperature (K)</text>
<text transform="translate(82 820.2) rotate(-90) scale(1.0 1.05)" font-size="76" text-anchor="start"><tspan class="se" font-size="74" stroke-width="0.2">1/</tspan><tspan class="se" font-style="italic" font-size="79.6" stroke="#fff" stroke-width="0.7" x="62.7" textLength="46.6" lengthAdjust="spacingAndGlyphs">κ</tspan><tspan x="96.9"> (m K/W)</tspan></text>
<text transform="translate(768 1079.2) scale(1.0 1.058)" font-size="69" text-anchor="start" font-weight="bold">T<tspan font-size="49.5" x="43.4" dy="17.9" textLength="29.8" lengthAdjust="spacingAndGlyphs" stroke-width="1.2">S</tspan></text>
</g>
<g id="inset">
<clipPath id="ic"><rect x="952.7" y="128.6" width="624.5" height="564.3"/></clipPath>
<g clip-path="url(#ic)" fill="none" stroke="#000" stroke-linecap="round" stroke-linejoin="round" shape-rendering="geometricPrecision">
<path d="M980.7 135.3h0 M980.6 144.8h0 M981 147.3h0 M980.9 149.8h0 M980.8 152.3h0 M980.9 154.8h0 M981.1 157.3h0 M981.1 159.8h0 M981.1 169.8h0 M981.2 172.3h0 M981.3 174.8h0 M981.5 177.3h0 M981.4 179.8h0 M981.5 182.3h0 M981.5 184.8h0 M981.5 187.3h0 M981.6 197.3h0 M981.7 206.7h0 M981.8 217.4h0 M981.9 226.2h0 M981.8 228.7h0 M981.8 231.2h0 M982.1 233.7h0 M981.9 236.2h0 M982.1 238.7h0 M982.2 241.2h0 M982 243.7h0 M981.9 246.2h0 M982.1 248.7h0 M982.1 251.2h0 M982 253.7h0 M982.3 256.2h0 M982.1 258.7h0 M982 261.2h0 M982 263.7h0 M982.1 266.2h0 M982.3 268.7h0 M982.4 271.2h0 M982.1 273.7h0 M982.1 276.2h0 M982.3 278.7h0 M982.3 281.2h0 M982.4 291.6h0 M982.6 294h0 M982.6 296.4h0 M982.7 298.8h0 M982.6 301.2h0 M982.3 303.6h0 M982.4 306h0 M982.6 308.4h0 M982.8 310.8h0 M982.5 313.2h0 M982.8 323h0 M982.7 325.2h0 M982.8 327.4h0 M982.7 329.6h0 M982.8 331.8h0 M982.8 334h0 M982.7 336.2h0 M982.9 338.4h0 M982.9 340.6h0 M983.1 342.8h0 M983.2 353.5h0 M983.3 355.5h0 M983.1 357.5h0 M983.3 359.5h0 M983.2 361.5h0 M983.3 363.5h0 M983.4 365.5h0 M983.2 367.5h0 M983.3 369.5h0 M983.4 371.5h0 M983.2 373.5h0 M983.4 375.5h0 M983.3 377.5h0 M983.4 379.5h0 M983.5 381.5h0 M983.7 383.5h0 M983.8 385.5h0 M983.5 387.5h0 M983.5 389.5h0 M983.7 391.5h0 M983.8 401.2h0 M983.8 403h0 M984 404.8h0 M984 406.6h0 M984 408.4h0 M984 410.2h0 M984.1 412h0 M984.2 413.8h0 M984.3 415.6h0 M984.3 417.4h0 M984.4 419.2h0 M984.1 420h0 M984.3 420.7h0 M984.4 421.7h0 M984.5 422.7h0 M984.4 423.5h0 M984.4 424.2h0 M984.2 425h0 M984.4 425.8h0 M984.4 426.8h0 M984.5 427.5h0 M984.6 428.4h0 M984.4 429.2h0 M984.6 430.1h0 M984.5 431.1h0 M984.6 431.7h0 M984.4 432.6h0 M984.7 433.3h0 M984.5 434h0 M984.8 435.1h0 M984.6 436.1h0 M984.5 436.9h0 M984.6 437.7h0 M984.8 438.4h0 M984.6 439.3h0 M984.8 440.4h0 M984.8 441.1h0 M984.6 441.9h0 M984.9 442.9h0 M984.8 443.7h0 M984.8 444.4h0 M985 445.4h0 M985 446.4h0 M985 447.2h0 M985.2 447.8h0 M984.9 448.7h0 M985.1 449.5h0 M985 450.6h0 M985.1 451.7h0 M985.1 452.6h0 M985.2 453.6h0 M985.3 454.4h0 M985.3 455.1h0 M985.2 456.1h0 M985.2 456.9h0 M985.1 457.6h0 M985.3 458.5h0 M985.2 459.4h0 M985.6 460.1h0 M985.5 461h0 M985.4 461.8h0 M985.3 462.5h0 M985.6 463.5h0 M985.5 464.5h0 M985.4 465.5h0 M985.7 466.6h0 M985.6 467.8h0 M985.7 468.5h0 M985.5 469.4h0 M985.8 470.3h0 M985.7 471.3h0 M985.9 472.3h0 M985.6 473.4h0 M985.8 474h0 M985.8 474.8h0 M985.7 475.5h0 M985.8 476.3h0 M986 477.2h0 M985.7 478h0 M986 478.7h0 M985.9 479.5h0 M986.1 480.3h0 M985.9 481.3h0 M986 482.3h0 M986.3 483.1h0 M986 484h0 M985.9 484.9h0 M986 485.6h0 M986 486.6h0 M986.3 487.7h0 M986.3 488.8h0 M986.1 489.8h0 M986.3 490.7h0 M986.3 491.4h0 M986.4 492.2h0 M986.2 493.1h0 M986.3 494h0 M986.5 494.8h0 M986.6 495.8h0 M986.5 497h0 M986.5 497.8h0 M986.5 498.7h0 M986.5 499.5h0 M986.7 500.3h0 M986.8 501.2h0 M986.6 502.1h0 M986.8 503.1h0 M986.6 504h0 M986.6 504.8h0 M986.9 505.8h0 M986.6 506.6h0 M986.7 507.6h0 M986.7 508.7h0 M986.7 509.6h0 M987.1 510.5h0 M986.9 511.3h0 M986.9 512.4h0 M986.7 513.2h0 M987.1 514h0 M987.1 514.9h0 M986.9 515.7h0 M986.9 516.7h0 M986.9 517.4h0 M987.2 518.4h0 M987.1 519.3h0 M987.3 520.1h0 M987.3 521.2h0 M987.2 522.1h0 M987.2 523.2h0 M987.1 524h0 M987.2 524.9h0 M987.2 525.6h0 M987.2 526.7h0 M987.5 527.5h0 M987.2 528.5h0 M987.6 529.3h0 M987.3 530.1h0 M987.6 530.7h0 M987.3 531.5h0 M987.4 532.3h0 M987.6 533.3h0 M987.6 534.3h0 M987.7 535.2h0 M987.6 535.9h0 M987.7 536.7h0 M987.7 537.8h0 M987.7 538.5h0 M987.9 539.4h0 M987.7 540.2h0 M987.6 541h0 M987.8 542.1h0 M988.1 543.2h0 M987.7 543.9h0 M988.1 544.8h0 M987.9 545.8h0 M988.2 546.7h0 M988 547.4h0 M988.2 548.1h0 M988.1 549.1h0 M987.9 549.8h0 M988 550.6h0 M988.1 551.6h0 M988.1 552.4h0 M988.3 553.2h0 M988.4 554.3h0 M988.2 555.1h0 M988.4 555.9h0 M988.5 557h0 M988.2 557.8h0 M988.5 558.6h0 M988.5 559.7h0 M988.4 560.8h0 M988.6 561.9h0 M988.5 562.6h0 M988.7 563.7h0 M988.7 564.4h0 M988.7 565.2h0 M988.6 566.1h0 M988.8 566.8h0 M988.8 567.5h0 M988.6 568.3h0 M989 569.1h0 M988.7 570.1h0 M988.8 571.1h0 M989 572h0 M988.8 572.8h0 M989 573.8h0 M989 574.9h0 M989.2 575.8h0 M989.2 576.6h0 M989 577.7h0 M989.1 578.8h0 M989.3 579.8h0 M989.4 580.8h0 M989.5 581.8h0 M989.2 582.9h0 M989.3 583.7h0 M989.6 584.7h0 M989.5 585.7h0 M989.4 586.6h0 M989.7 587.6h0 M989.6 588.5h0 M989.8 589.2h0 M989.8 590h0 M989.6 590.8h0 M989.8 591.9h0 M989.7 592.9h0 M989.8 593.9h0 M989.7 594.6h0 M990 595.3h0 M989.9 596.2h0 M990 597.2h0 M990 598.3h0 M990.1 599.4h0 M990.3 600.1h0 M990.2 601.1h0 M990.2 601.9h0 M990.2 602.7h0 M990.1 603.5h0 M990.1 604.2h0 M990.4 605.3h0 M990.3 606.3h0 M990.3 607.2h0 M990.6 608.2h0 M990.7 609.3h0 M990.6 610h0 M990.6 610.8h0 M990.7 611.7h0 M990.5 612.8h0 M990.8 613.6h0 M990.9 614.6h0 M990.8 615.5h0 M990.8 616.1h0 M991 617.1h0 M991 617.9h0 M990.9 618.7h0 M991.1 619.7h0 M991.1 620.7h0 M991.2 621.4h0 M991 622.3h0 M991.3 623.1h0 M991.4 624.3h0 M991.5 625.3h0 M991.6 626.2h0 M991.5 627.2h0 M991.7 628h0 M991.8 628.9h0 M991.6 629.8h0 M991.8 630.6h0 M991.9 631.4h0 M992 632.4h0 M992 633.5h0 M991.9 634.5h0 M991.9 635.2h0 M992.1 636.3h0 M992.2 637.2h0 M992.1 638h0 M992.4 639h0 M992.4 639.8h0 M992.5 640.7h0 M992.4 641.8h0 M992.5 642.9h0 M992.5 643.9h0 M992.7 644.6h0 M992.6 645.4h0 M992.7 646.1h0 M992.8 647h0 M992.8 647.9h0 M993.1 649h0 M993.2 650h0 M993.1 650.7h0 M993.2 651.8h0 M993.3 652.7h0 M993.4 653.7h0 M993.4 654.5h0 M993.4 655.3h0 M993.6 656.4h0 M993.6 657.4h0 M993.9 658.5h0 M993.9 659.4h0 M994 660.5h0 M994.3 661.2h0 M994.1 662.1h0 M994.4 663.2h0 M994.5 664.1h0 M994.7 664.8h0 M994.7 665.7h0 M994.9 666.8h0 M995 667.9h0 M995 668.8h0 M995 669.6h0 M995.1 670.7h0 M995.3 671.4h0 M995.4 672.3h0 M995.8 673.1h0 M995.9 674.1h0 M996.1 674.8h0 M996.1 675.8h0 M996.2 676.8h0 M996.3 677.5h0 M996.5 678.5h0 M996.9 679.5h0 M996.7 680.3h0 M997.2 681h0 M997.3 682h0 M997.5 683h0 M997.7 683.8h0 M998.2 684.6h0 M998.1 685.7h0 M998.8 686.5h0 M998.6 687.4h0 M999.4 688.5h0 M1000 689.6h0 M1000 690.7h0 M1000.4 691.5h0 M1001.4 692h0 M1001.7 692.4h0 M1002 692.3h0 M1002.7 692.6h0 M1002.7 691.4h0 M1003.9 691.6h0 M1004.1 690.6h0 M1004.9 690h0 M1005.2 688.9h0 M1005.8 688.2h0 M1005.5 687h0 M1006.9 686.4h0 M1006.6 685.1h0 M1007.4 684.5h0 M1007.2 683.2h0 M1008.2 682.6h0 M1008.5 682h0 M1008.3 681h0 M1008.5 679.9h0 M1009.7 679.5h0 M1008.9 678.3h0 M1009.7 677.5h0 M1011.3 677.1h0 M1011.6 676h0 M1011.6 675.1h0 M1010.8 673.7h0 M1011 672.6h0 M1011.5 671.8h0 M1011.5 671h0 M1011.8 669.9h0 M1012.2 668.9h0 M1012.5 668.1h0 M1012.6 667h0 M1013.3 666.1h0 M1014.6 665.3h0 M1014.2 664.4h0 M1014.2 663.6h0 M1015 663.1h0 M1014.3 661.9h0 M1015.9 661.6h0 M1014.7 660.6h0 M1015 660h0 M1015.5 659.2h0 M1015.1 658.3h0 M1015.4 657.3h0 M1016 656.6h0 M1016.8 655.9h0 M1016 655h0 M1016 654.1h0 M1016.4 653.2h0 M1016.9 652.4h0 M1016.5 651.2h0 M1018.5 650.6h0 M1016.8 649.4h0 M1017.3 648.4h0 M1016.9 647.6h0 M1019.3 647.1h0 M1018.6 645.9h0 M1019.8 645.2h0 M1020 644.3h0 M1019.6 643.2h0 M1018.3 641.9h0 M1018.3 641h0 M1021 640.6h0 M1019 639.1h0 M1020 638.6h0 M1019.5 637.6h0 M1020.9 637.2h0 M1019.5 635.8h0 M1020.4 635.2h0 M1021.4 634.5h0 M1022.3 633.8h0 M1021 632.6h0 M1022.7 632h0 M1021.1 630.5h0 M1022.1 629.9h0 M1022.8 629h0 M1022.2 627.8h0 M1022.1 626.7h0 M1023.7 626.1h0 M1024.3 625.2h0 M1023 624h0 M1024.1 623.1h0 M1023.1 622h0 M1025.4 621.5h0 M1024.3 620.3h0 M1026.3 619.8h0 M1025.9 618.7h0 M1026.1 617.7h0 M1024.6 616.4h0 M1026.8 615.9h0 M1025 614.3h0 M1026.7 614h0 M1025.2 612.5h0 M1026 611.8h0 M1026.6 610.8h0 M1028.1 610.4h0 M1027.2 609.3h0 M1027.1 608.5h0 M1027.1 607.8h0 M1027.4 606.9h0 M1029.6 606.5h0 M1027 604.8h0 M1027.9 603.9h0 M1029.1 603.4h0 M1028.8 602.3h0 M1029.9 601.7h0 M1029 600.6h0 M1029.6 599.8h0 M1030.5 599.2h0 M1030.1 598.2h0 M1031.7 597.6h0 M1030.4 596.2h0 M1029.9 595h0 M1031.3 594.2h0 M1032.9 593.8h0 M1033.6 593h0 M1031 591.2h0 M1033.4 590.9h0 M1032.9 590h0 M1032.2 588.6h0 M1032.5 588h0 M1032.7 587.2h0 M1034.8 586.9h0 M1034.2 585.8h0 M1032.7 584.6h0 M1033.9 583.8h0 M1034.2 582.7h0 M1035.5 582.1h0 M1033.8 580.9h0 M1034.2 580.1h0 M1034.6 579.3h0 M1035.7 578.8h0 M1035.5 577.9h0 M1036.9 577.4h0 M1038.1 577h0 M1038.1 576.1h0 M1035.5 574.6h0 M1038.5 574.8h0 M1038.5 573.9h0 M1036.4 572.1h0 M1037.4 571.6h0 M1039.1 571.2h0 M1039.9 570.8h0 M1038.4 569.3h0 M1038.5 568.3h0 M1039.3 567.5h0 M1038.9 566.4h0 M1041.3 566.6h0 M1040.3 565.2h0 M1042.3 564.9h0 M1042.9 564.4h0 M1042 563.2h0 M1041.2 562h0 M1042.7 561.7h0 M1043.4 561h0 M1042.2 559.2h0 M1043.9 559.2h0 M1043.3 558h0 M1044.9 557.7h0 M1046.1 557h0 M1044.7 555.3h0 M1046.3 554.8h0 M1047.3 554.4h0 M1046.8 553.3h0 M1047.9 552.7h0 M1048.5 551.9h0 M1045.8 550h0 M1047.8 550h0 M1046.6 548.6h0 M1048.5 548.5h0 M1049.4 548h0 M1050.1 547.4h0 M1049.3 545.9h0 M1048.8 544.7h0 M1049.6 544.2h0 M1049.4 543.2h0 M1049.6 542.3h0 M1051.4 542h0 M1051 541h0 M1050.8 540h0 M1051.3 539.3h0 M1053.2 539.3h0 M1053.5 538.5h0 M1053.4 537.4h0 M1053.5 536.6h0 M1053.6 535.6h0 M1053.8 534.5h0 M1054.5 534h0 M1056.5 533.9h0 M1055.5 532.2h0 M1057.3 532.2h0 M1057.2 531.3h0 M1057 529.9h0 M1058 529.7h0 M1057.7 528.7h0 M1059.9 529.2h0 M1057.9 526.7h0 M1060.8 527.9h0 M1060.5 526.7h0 M1060.7 526h0 M1061.5 525.7h0 M1062 525.1h0 M1061.3 523.1h0 M1062.3 523h0 M1062.8 522.3h0 M1064 522.4h0 M1065 521.9h0 M1066.1 522.1h0 M1066.8 521.2h0 M1067.2 520.5h0 M1068 520.7h0 M1068.6 520.2h0 M1069.7 520.8h0 M1070.1 519.9h0 M1070.6 518.4h0 M1071.6 518.2h0 M1072.3 517.8h0 M1073.3 519h0 M1073.7 517.3h0 M1074.7 519.3h0 M1075.4 518h0 M1076.5 519.1h0 M1077.3 518h0 M1078.2 517.9h0 M1079.3 518h0 M1080.3 519h0 M1080.8 516.2h0 M1082 519.1h0 M1082.6 516h0 M1083.3 517.9h0 M1084 517.8h0 M1085.1 516h0 M1086.1 516.9h0 M1087 517.4h0 M1087.7 517.7h0 M1088.4 517.9h0 M1089.2 517.8h0 M1090 517.9h0 M1090.3 520.3h0 M1091.1 520.1h0 M1092.9 517.9h0 M1092.6 520.7h0 M1094.3 518.5h0 M1094.5 520.8h0 M1095.8 520.5h0 M1096.8 520.3h0 M1097.1 521.6h0 M1098.9 520.4h0 M1099.3 521.6h0 M1099.6 522.7h0 M1101.2 522.2h0 M1101.1 524.6h0 M1101.8 525.1h0 M1103.1 524.7h0 M1104.4 523.9h0 M1104.1 526.2h0 M1106.3 524.2h0 M1106.9 525h0 M1107.2 526.6h0 M1107.9 527.6h0 M1109.1 526.8h0 M1109 528.9h0 M1111 527.1h0 M1111.6 527.7h0 M1112.1 528.3h0 M1112.4 529.2h0 M1112.5 531.1h0 M1113.8 530.4h0 M1115.5 529.7h0 M1116.1 530.4h0 M1116.6 531.2h0 M1117.6 531.6h0 M1117.6 533.1h0 M1117.6 534.6h0 M1119.5 533.4h0 M1120 534.5h0 M1121.5 534.1h0 M1120.8 536.2h0 M1121.2 537.1h0 M1123.2 535.9h0 M1123.8 536.9h0 M1124.6 537h0 M1125.3 537.8h0 M1124.7 540h0 M1125.6 540.4h0 M1127.6 539.9h0 M1127.8 541.3h0 M1129.3 540.6h0 M1129.9 541.2h0 M1129.7 543h0 M1129.5 544.3h0 M1131.2 543.8h0 M1131.7 544.3h0 M1132.2 545.4h0 M1132.8 546h0 M1133.4 546.7h0 M1135.2 546h0 M1134 548.2h0 M1135.9 547.2h0 M1136 548.5h0 M1137.5 548.5h0 M1138.1 548.9h0 M1138.5 549.8h0 M1138.1 551.5h0 M1138.7 552h0 M1139.5 552.2h0 M1139.2 554h0 M1139.8 554.8h0 M1142.1 553.6h0 M1142.2 554.8h0 M1143 555.4h0 M1142.8 556.5h0 M1142.9 557.5h0 M1145 556.7h0 M1145.5 557.2h0 M1146.2 557.9h0 M1145.8 559.2h0 M1147.8 558.8h0 M1148.5 559.3h0 M1148 560.6h0 M1147.1 562.4h0 M1148.2 562.4h0 M1149.5 562.6h0 M1150.6 562.9h0 M1151.6 563.1h0 M1152.4 563.9h0 M1150.8 566h0 M1151.9 566.2h0 M1153.5 566.1h0 M1154.2 566.8h0 M1152.8 568.9h0 M1152.7 570h0 M1154.4 569.7h0 M1155 570.4h0 M1157 570.2h0 M1155.2 572.6h0 M1156.4 572.6h0 M1157.3 573.1h0 M1157.1 574.3h0 M1156.8 575.7h0 M1157 576.7h0 M1159.8 576.1h0 M1160.8 576.4h0 M1161.1 577.2h0 M1159.7 579.1h0 M1161.2 579.3h0 M1162 579.9h0 M1163.3 580.4h0 M1161.9 582.1h0 M1161.3 583.3h0 M1163.3 583.3h0 M1163.9 583.8h0 M1164.3 584.6h0 M1163.5 585.7h0 M1162.9 586.9h0 M1163.7 587.6h0 M1163.8 588.7h0 M1165 589.1h0 M1166.5 589.4h0 M1167.2 589.9h0 M1167 590.8h0 M1167.3 591.8h0 M1167 592.7h0 M1166.3 593.8h0 M1167.1 594.3h0 M1167.6 594.9h0 M1168.7 595.6h0 M1168.6 596.7h0 M1170.3 596.6h0 M1169.6 598.1h0 M1169.8 599.1h0 M1171 599.6h0 M1170.2 601h0 M1172.4 601h0 M1171.4 602.5h0 M1172.9 602.7h0 M1171.6 604.5h0 M1173.6 604.5h0 M1173.8 605.4h0 M1174 606.3h0 M1175.7 606.5h0 M1176.2 607.5h0 M1176.1 608.4h0 M1174.5 610.4h0 M1174.8 611.5h0 M1178.1 610.3h0 M1176 612.9h0 M1176.6 613.4h0 M1177.3 613.8h0 M1177.3 614.9h0 M1180.5 613.9h0 M1180.4 615h0 M1181.4 615.4h0 M1181 616.8h0 M1181.2 617.4h0 M1183 617.4h0 M1182.5 619.2h0 M1181.7 620.8h0 M1183.7 620.3h0 M1183 622h0 M1185.3 620.9h0 M1186.2 621.2h0 M1185.8 622.9h0 M1185.5 624.6h0 M1187.6 623.8h0 M1187.7 625h0 M1189 624.9h0 M1188.4 626.7h0 M1188.3 627.9h0 M1190.6 626.6h0 M1190.8 627.4h0 M1190.8 628.7h0 M1192.6 628.3h0 M1193.2 629.2h0 M1194.3 629.3h0 M1194.5 630.6h0 M1196 630.4h0 M1196.3 631.5h0 M1196 633.2h0 M1196.9 633.3h0 M1198.5 633.1h0 M1199.1 633.7h0 M1199.1 634.9h0 M1199.4 635.9h0 M1200.2 636.7h0 M1201.2 636.6h0 M1201.3 638.1h0 M1202.8 637.9h0 M1202.7 639.2h0 M1204.2 638.6h0 M1205.4 638.7h0 M1206.2 639.4h0 M1206.3 640.6h0 M1207.3 640.9h0 M1208.2 641.5h0 M1209.5 641.4h0 M1210.2 641.9h0 M1210.4 643.4h0 M1211.6 643.4h0 M1211.1 645.8h0 M1212.8 644.6h0 M1212.8 646.5h0 M1214.7 645.6h0 M1215.7 645.8h0 M1215.6 647.4h0 M1216.5 647.5h0 M1217.7 647.2h0 M1217.2 649.3h0 M1217.4 650.1h0 M1218.3 650.8h0 M1220.7 649.1h0 M1220.8 650.2h0 M1221.8 650.1h0 M1221.4 652.6h0 M1223.3 651.7h0 M1223.3 653.6h0 M1225 652.5h0 M1225.2 653.6h0 M1226.6 653.4h0 M1226.9 654.5h0 M1228.1 654.6h0 M1228.7 655.5h0 M1228.8 657.2h0 M1229.7 657.8h0 M1231.1 656.9h0 M1231.8 657.2h0 M1231.7 658.8h0 M1233.1 657.8h0 M1233.2 659.5h0 M1234.7 659.2h0 M1234.8 660.5h0 M1235.6 660.7h0 M1237 659.4h0 M1237.1 661.2h0 M1238.1 661.3h0 M1239.4 660.8h0 M1239.8 661.6h0 M1240.7 661.8h0 M1241.2 662.5h0 M1242.1 662.5h0 M1242.5 664.4h0 M1243.6 663.6h0 M1244.4 663.6h0 M1245.3 663.3h0 M1245.9 663.7h0 M1246.8 664h0 M1247.2 665.9h0 M1248 666h0 M1249.5 665.2h0 M1250.1 666.3h0 M1251 666.2h0 M1251.4 667.2h0 M1252.3 667h0 M1253.4 667.2h0 M1253.7 668.8h0 M1254.8 668.3h0 M1255.5 668.7h0 M1256.4 668.8h0 M1257.6 668.1h0 M1258.1 669.8h0 M1259.5 669.3h0 M1260.3 669.2h0 M1261 669.9h0 M1261.7 670h0 M1262.1 671.5h0 M1263 671.7h0 M1264 670.6h0 M1265.2 670.7h0 M1265.5 671.9h0 M1266.5 671.5h0 M1267.2 672.6h0 M1267.9 672.7h0 M1268.6 673.6h0 M1269.6 672.6h0 M1270.6 672.4h0 M1271.1 674.6h0 M1272 674.5h0 M1272.6 675h0 M1273.9 673.3h0 M1274.3 674.4h0 M1274.7 675.6h0 M1275.9 675.1h0 M1276.9 675h0 M1277.8 675.9h0 M1278.8 675.2h0 M1279.5 675.5h0 M1280.5 675.2h0 M1281.4 675.8h0 M1282.4 675.7h0 M1283 677h0 M1283.6 677.8h0 M1284.7 676.7h0 M1285.6 677.1h0 M1286.7 677.2h0 M1287.2 678.3h0 M1288.1 678.9h0 M1289.1 678.5h0 M1289.8 679h0 M1290.5 679.5h0 M1291.8 678.7h0 M1292.5 679.2h0 M1293.4 679.8h0 M1293.9 681h0 M1294.7 681.4h0 M1296.2 680.2h0 M1296.3 681.7h0 M1296.9 682.3h0 M1297.9 682.5h0 M1298.7 682.7h0 M1299.8 682.7h0 M1300.3 683.9h0 M1301.6 683.4h0 M1302.1 684.4h0 M1302.9 684.8h0 M1304.1 684h0 M1305 684.4h0 M1305.9 685.2h0 M1306.9 685.4h0 M1307.8 684.5h0 M1308.8 684.7h0 M1309.8 685h0 M1310.7 685.6h0 M1311.6 685.9h0 M1312.7 685.9h0 M1313.5 684.5h0 M1314.4 685.1h0 M1315.5 685.4h0 M1316.5 685.2h0 M1317.3 686.5h0 M1318.5 685.7h0 M1319.3 686.1h0 M1320.2 686.1h0 M1321.2 686.9h0 M1322 686.7h0 M1323.2 686.2h0 M1324.2 687.1h0 M1325.4 685.9h0 M1326.3 687.7h0 M1327.1 687.1h0 M1327.8 687.2h0 M1328.8 687.5h0 M1329.9 686.8h0 M1330.6 687.8h0 M1331.4 686.9h0 M1332 687.9h0 M1332.9 688.1h0 M1333.9 688.2h0 M1334.9 688.4h0 M1335.8 687.5h0 M1336.7 688h0 M1337.7 688.5h0 M1338.6 687.4h0 M1339.5 688.5h0 M1340.4 687.4h0 M1341.1 687.8h0 M1341.9 687.8h0 M1342.6 687.8h0 M1343.4 687.8h0 M1344.1 688.5h0 M1345.1 689.3h0 M1346.1 688.1h0 M1346.8 689.1h0 M1347.6 689h0 M1348.6 689.3h0 M1349.8 688.3h0 M1350.6 688.3h0 M1351.4 689.4h0 M1352.3 688.5h0 M1353.1 688.8h0 M1353.9 689.2h0 M1355 689.2h0 M1356 689.3h0 M1356.8 689h0 M1357.5 690.1h0 M1358.4 689.3h0 M1359.5 690.5h0 M1360.3 689.7h0 M1361.3 689.3h0 M1362.1 689.5h0 M1363.2 689.2h0 M1364.3 689.5h0 M1365.1 689.3h0 M1366.2 690.7h0 M1366.9 690.1h0 M1367.7 690.3h0 M1368.5 691h0 M1369.3 690.7h0 M1370.1 690.5h0 M1371 690.3h0 M1371.9 690.5h0 M1372.6 689.5h0 M1373.7 689.9h0 M1374.6 689.9h0 M1375.5 691.2h0 M1376.4 690.1h0 M1377.3 689.6h0 M1378 689.6h0 M1378.7 691.3h0 M1379.5 690.6h0 M1380.3 689.7h0 M1381.3 689.9h0 M1382 691.2h0 M1382.9 690.1h0 M1384 690.1h0 M1385 690.4h0 M1385.9 690.5h0 M1386.7 691.7h0 M1387.9 690.4h0 M1388.9 690.4h0 M1389.7 690.4h0 M1390.5 691.7h0 M1391.5 691.9h0 M1392.5 690.9h0 M1393.1 691.4h0 M1394.2 691.6h0 M1395.1 692.5h0 M1396.2 692.3h0 M1397.2 691.5h0 M1398.2 691.9h0 M1399.2 691.7h0 M1400.3 691.6h0 M1401.2 693h0 M1402 693h0 M1403 692.6h0 M1403.8 692.1h0 M1404.5 692.4h0 M1405.5 692.9h0 M1406.5 692.2h0 M1407.3 693h0 M1408.4 692h0 M1409.3 692.1h0 M1410.4 691.6h0 M1411.5 693h0 M1412.3 692.8h0 M1413.1 692.7h0 M1414 693.2h0 M1414.9 693.1h0 M1415.8 692.3h0 M1416.9 692h0 M1418 693.4h0 M1419.1 692.7h0 M1420 693.3h0 M1420.9 693.1h0 M1421.9 693.1h0 M1422.8 692.8h0 M1423.5 691.7h0 M1424.2 692.9h0 M1425.1 693.2h0 M1425.8 691.9h0 M1426.8 692.4h0 M1427.6 693h0 M1428.4 693.4h0 M1429.2 693.1h0 M1430.1 693.3h0 M1430.9 693.3h0 M1431.7 692.4h0 M1432.7 692.6h0 M1433.6 692.9h0 M1434.4 691.6h0 M1435.4 692.7h0 M1436.4 692.5h0 M1437.4 692.1h0 M1438.5 691.9h0 M1439.5 693.3h0 M1440.3 693h0 M1441.1 691.7h0 M1441.9 692.9h0 M1442.7 693.3h0 M1443.4 692.1h0 M1444.2 692.3h0 M1445.1 691.6h0 M1445.8 692.1h0 M1446.8 692.3h0 M1447.8 692.4h0 M1448.6 691.9h0 M1449.4 693.2h0 M1450.3 692.2h0 M1451.1 693.2h0 M1452.1 692.9h0 M1453.1 692h0 M1454.1 691.7h0 M1455.1 692.2h0 M1456 692h0 M1456.9 692.8h0 M1458 692.2h0 M1458.7 691.8h0 M1459.7 693.2h0 M1460.4 692.2h0 M1461.1 693.3h0 M1461.9 691.7h0 M1462.9 693.4h0 M1463.9 691.8h0 M1464.8 692.5h0 M1465.9 693h0 M1466.6 692.4h0 M1467.6 692.6h0 M1468.6 693.3h0 M1469.7 693.1h0 M1470.6 692.2h0 M1471.4 691.9h0 M1472.3 693h0 M1473.4 693.2h0 M1474.2 692.2h0 M1474.9 692.6h0 M1476 693h0 M1476.9 691.9h0 M1478 693.2h0 M1479 692.1h0 M1479.8 692.7h0 M1480.9 692h0 M1481.8 691.7h0 M1482.5 692h0 M1483.5 692.8h0 M1484.4 692.3h0 M1485.2 693h0 M1486.1 691.7h0 M1487 693.4h0 M1487.8 693.4h0 M1488.5 692.2h0 M1489.6 693.3h0 M1490.3 692.9h0 M1491.3 692.3h0 M1492.3 692.7h0 M1493.1 692.5h0 M1494.1 692.7h0 M1495 692.9h0 M1495.7 691.7h0 M1496.4 692.7h0 M1497.3 693.1h0 M1498.4 691.8h0 M1499.3 692.4h0 M1500.2 693.2h0 M1501.1 692.1h0 M1502.1 692.2h0 M1503 691.8h0 M1504 692.4h0 M1504.9 692.6h0 M1505.9 692.9h0 M1506.6 692.9h0 M1507.6 692.8h0 M1508.4 691.7h0 M1509.5 693h0 M1510.6 692.3h0 M1511.7 693.1h0 M1512.6 693.1h0 M1513.6 691.6h0 M1514.4 692.2h0 M1515.3 692.6h0 M1516.2 693h0 M1517.2 691.6h0 M1518.1 692.9h0 M1519.1 691.3h0 M1520 691.5h0 M1521 693.1h0 M1521.7 692.7h0 M1522.6 693h0 M1523.6 691.3h0 M1524.6 692.7h0 M1525.4 692.4h0 M1526.2 691.5h0 M1527 691.6h0 M1528.1 691.4h0 M1529 691.9h0 M1530 692.7h0 M1530.9 692.5h0 M1531.7 692.1h0 M1532.4 692.4h0 M1533.3 691h0 M1534.4 691.7h0 M1535.3 690.9h0 M1536.4 691.6h0 M1537.4 690.8h0 M1538.4 691.2h0 M1539.3 691.7h0 M1540.4 692.1h0 M1541.2 692h0 M1541.8 690.4h0 M1542.6 690.9h0 M1543.7 691.3h0 M1544.6 691.7h0 M1545.6 691.4h0 M1546.6 691.7h0 M1547.5 691.9h0 M1548.1 690.1h0 M1549.1 690.3h0 M1550 690.8h0 M1550.7 690.6h0 M1551.5 689.9h0 M1552.5 690.4h0 M1553.3 691h0 M1554 689.5h0 M1555.2 690.1h0 M1555.9 689.8h0 M1556.6 689.2h0 M1557.4 689.3h0 M1558.3 690.1h0 M1558.9 688.9h0 M1559.7 689.3h0 M1560.5 689.7h0 M1561.7 689.9h0 M1562.5 689.7h0 M1563.5 689.3h0 M1564.4 688.6h0 M1565.5 688.7h0 M1566.5 688.9h0 M1567.2 689h0 M1567.8 688.1h0 M1568.9 688.6h0 M1569.5 688.1h0 M1569.9 686.8h0 M1571 687.5h0 M1571.8 687.7h0 M1572.1 686.4h0" stroke-width="8.6"/>
</g>
<line x1="1171.4" y1="124.8" x2="1171.4" y2="691" stroke="#000" stroke-width="3.3" stroke-dasharray="8.4 4.6"/>
<g stroke="#000" fill="none" stroke-width="3.1" shape-rendering="crispEdges">
<rect x="952.7" y="128.6" width="624.5" height="562.8"/>
<path d="M994.3 130.2 v4.4 M994.3 689.9 v-4.4 M1036 130.2 v9.7 M1036 689.9 v-9.7 M1077.6 130.2 v4.4 M1077.6 689.9 v-4.4 M1119.2 130.2 v9.7 M1119.2 689.9 v-9.7 M1160.9 130.2 v4.4 M1160.9 689.9 v-4.4 M1202.5 130.2 v9.7 M1202.5 689.9 v-9.7 M1244.1 130.2 v4.4 M1244.1 689.9 v-4.4 M1285.8 130.2 v9.7 M1285.8 689.9 v-9.7 M1327.4 130.2 v4.4 M1327.4 689.9 v-4.4 M1369 130.2 v9.7 M1369 689.9 v-9.7 M1410.7 130.2 v4.4 M1410.7 689.9 v-4.4 M1452.3 130.2 v9.7 M1452.3 689.9 v-9.7 M1493.9 130.2 v4.4 M1493.9 689.9 v-4.4 M1535.6 130.2 v9.7 M1535.6 689.9 v-9.7 M954.2 621 h3.2 M1575.7 621 h-3.2 M954.2 550.7 h7.5 M1575.7 550.7 h-7.5 M954.2 480.4 h3.2 M1575.7 480.4 h-3.2 M954.2 410 h7.5 M1575.7 410 h-7.5 M954.2 339.6 h3.2 M1575.7 339.6 h-3.2 M954.2 269.3 h7.5 M1575.7 269.3 h-7.5 M954.2 198.9 h3.2 M1575.7 198.9 h-3.2" stroke-width="2.9"/>
</g>
<text transform="translate(941.3 706.7) scale(0.91 1.058)" font-size="47" text-anchor="end">0</text>
<text transform="translate(941.3 566) scale(0.91 1.058)" font-size="47" text-anchor="end">0.01</text>
<text transform="translate(941.3 425.3) scale(0.91 1.058)" font-size="47" text-anchor="end">0.02</text>
<text transform="translate(941.3 284.6) scale(0.91 1.058)" font-size="47" text-anchor="end">0.03</text>
<text transform="translate(941.3 143.9) scale(0.91 1.058)" font-size="47" text-anchor="end">0.04</text>
<text transform="translate(952.7 741.6) scale(0.91 1.058)" font-size="47" text-anchor="middle">0</text>
<text transform="translate(1036 741.6) scale(0.91 1.058)" font-size="47" text-anchor="middle">40</text>
<text transform="translate(1119.2 741.6) scale(0.91 1.058)" font-size="47" text-anchor="middle">80</text>
<text transform="translate(1202.5 741.6) scale(0.91 1.058)" font-size="47" text-anchor="middle">120</text>
<text transform="translate(1285.8 741.6) scale(0.91 1.058)" font-size="47" text-anchor="middle">160</text>
<text transform="translate(1369 741.6) scale(0.91 1.058)" font-size="47" text-anchor="middle">200</text>
<text transform="translate(1452.3 741.6) scale(0.91 1.058)" font-size="47" text-anchor="middle">240</text>
<text transform="translate(1535.6 741.6) scale(0.91 1.058)" font-size="47" text-anchor="middle">280</text>
<text transform="translate(1111 809.7) scale(0.91 1.058)" font-size="47" text-anchor="start">Temperature (K)</text>
<text transform="translate(1185.6 538.1) scale(0.89 1.058)" font-size="63.3" text-anchor="start">T<tspan font-size="41.7" x="38.3" dy="16.6" textLength="29.3" lengthAdjust="spacingAndGlyphs">S</tspan></text>
<text class="se" transform="translate(963.3 98) scale(0.9 1)" font-size="62">Δ</text>
</g>
</svg></body></html>
